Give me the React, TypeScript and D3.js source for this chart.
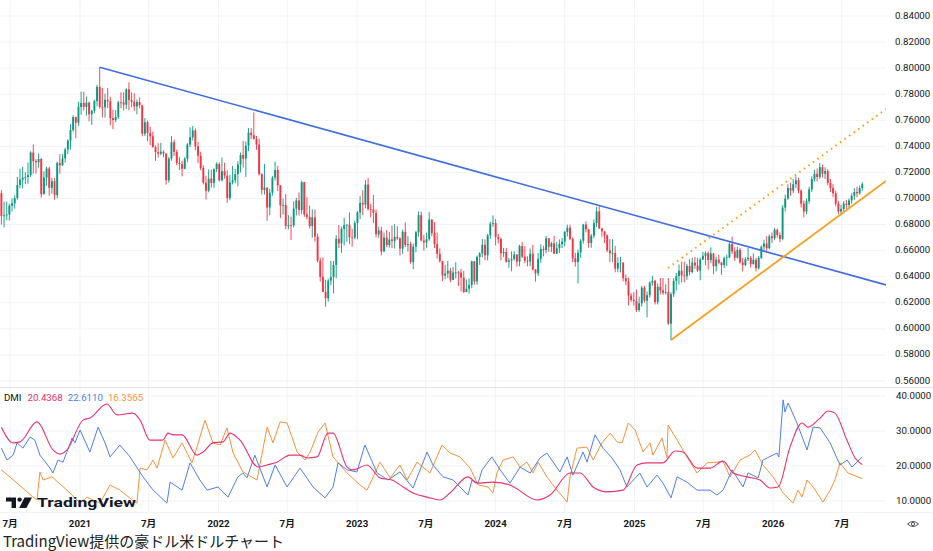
import React from "react";
import * as d3 from "d3";

const W = 933;
const H = 551;

// ---- Data: weekly AUD/USD candles (open = previous close) ----
const firstWeek = "2020-06-08";
const firstOpen = 0.704;

const weekClose = [
  // 2020
  0.6866,0.6871,0.6877,0.6945,0.6963,0.7003,0.7104,0.7144,0.7160,0.7165,
  0.7179,0.7353,0.7287,0.7278,0.7303,0.7033,0.7161,0.7230,0.7082,0.7133,
  0.7026,0.7273,0.7255,0.7308,0.7376,0.7443,0.7526,0.7624,0.7582,0.7702,
  // 2021
  0.7733,0.7703,0.7735,0.7646,0.7673,0.7747,0.7856,0.7702,0.7700,0.7757,
  0.7746,0.7617,0.7602,0.7626,0.7738,0.7737,0.7720,0.7838,0.7755,0.7742,
  0.7706,0.7740,0.7714,0.7497,0.7585,0.7503,0.7477,0.7394,0.7356,0.7344,
  0.7359,0.7344,0.7139,0.7307,0.7431,0.7358,0.7272,0.7265,0.7227,0.7305,
  0.7414,0.7470,0.7522,0.7400,0.7328,0.7234,0.7121,0.7059,0.7153,0.7120,
  0.7225,0.7264,
  // 2022
  0.7140,0.7209,0.7175,0.7003,0.7124,0.7140,0.7187,0.7261,0.7334,0.7306,
  0.7405,0.7505,0.7486,0.7457,0.7414,0.7187,0.7066,0.7084,0.6931,0.7044,
  0.7160,0.7219,0.7101,0.6946,0.6950,0.6790,0.6795,0.6794,0.6922,0.6985,
  0.6912,0.7125,0.6878,0.6859,0.6788,0.6855,0.6707,0.6523,0.6399,0.6284,
  0.6235,0.6370,0.6398,0.6490,0.6690,0.6655,0.6766,0.6795,0.6799,0.6702,
  0.6700,0.6813,
  // 2023
  0.6893,0.6966,0.6954,0.7107,0.6920,0.6915,0.6890,0.6725,0.6755,0.6594,
  0.6700,0.6643,0.6686,0.6675,0.6705,0.6694,0.6615,0.6745,0.6644,0.6650,
  0.6512,0.6631,0.6741,0.6872,0.6678,0.6663,0.6688,0.6838,0.6734,0.6650,
  0.6575,0.6520,0.6409,0.6425,0.6446,0.6376,0.6432,0.6432,0.6431,0.6393,
  0.6282,0.6308,0.6337,0.6518,0.6364,0.6552,0.6579,0.6645,0.6564,0.6718,
  0.6807,0.6812,
  // 2024
  0.6704,0.6688,0.6580,0.6590,0.6514,0.6525,0.6535,0.6571,0.6515,0.6635,
  0.6554,0.6523,0.6517,0.6577,0.6457,0.6426,0.6537,0.6613,0.6604,0.6695,
  0.6629,0.6656,0.6578,0.6619,0.6651,0.6670,0.6744,0.6776,0.6690,0.6541,
  0.6512,0.6586,0.6676,0.6800,0.6764,0.6659,0.6715,0.6811,0.6901,0.6771,
  0.6748,0.6717,0.6602,0.6580,0.6582,0.6462,0.6505,0.6509,0.6389,0.6363,
  0.6255,0.6222,0.6212,
  // 2025
  0.6145,0.6196,0.6316,0.6217,0.6259,0.6355,0.6369,0.6205,0.6323,0.6295,
  0.6277,0.6282,0.6040,0.6266,0.6368,0.6405,0.6446,0.6410,0.6404,0.6482,
  0.6435,0.6508,0.6486,0.6447,0.6532,0.6560,0.6581,0.6528,0.6578,0.6480,
  0.6531,0.6508,0.6489,0.6542,0.6548,0.6650,0.6594,0.6545,0.6606,0.6510,
  0.6490,0.6535,0.6545,0.6495,0.6530,0.6465,0.6545,0.6630,0.6655,0.6620,
  0.6710,0.6695,
  // 2026
  0.6760,0.6720,0.6690,0.6930,0.7000,0.7080,0.7060,0.7110,0.7140,0.7060,
  0.6960,0.6900,0.6980,0.7070,0.7150,0.7190,0.7165,0.7240,0.7190,0.7210,
  0.7120,0.7080,0.7040,0.6960,0.6900,0.6920,0.6960,0.6950,0.6985,0.7020,
  0.7050,0.7040,0.7080,0.7110,
];

const weekHigh = [
  0.7064,0.6976,0.6977,0.6960,0.7000,0.7024,0.7165,0.7228,0.7243,0.7203,
  0.7276,0.7362,0.7414,0.7303,0.7345,0.7313,0.7209,0.7243,0.7243,0.7158,
  0.7158,0.7282,0.7340,0.7342,0.7390,0.7455,0.7569,0.7639,0.7627,0.7742,
  0.7820,0.7819,0.7782,0.7744,0.7680,0.7759,0.7873,0.8007,0.7848,0.7804,
  0.7849,0.7780,0.7680,0.7677,0.7750,0.7815,0.7816,0.7845,0.7891,0.7814,
  0.7807,0.7760,0.7775,0.7720,0.7617,0.7598,0.7549,0.7513,0.7408,0.7425,
  0.7427,0.7370,0.7348,0.7317,0.7478,0.7452,0.7375,0.7317,0.7290,0.7318,
  0.7425,0.7546,0.7556,0.7537,0.7434,0.7358,0.7255,0.7175,0.7223,0.7222,
  0.7232,0.7278,
  0.7277,0.7314,0.7276,0.7216,0.7181,0.7250,0.7226,0.7286,0.7352,0.7441,
  0.7438,0.7540,0.7540,0.7661,0.7480,0.7458,0.7194,0.7266,0.7052,0.7073,
  0.7173,0.7283,0.7250,0.7070,0.7000,0.7034,0.6872,0.6860,0.6977,0.7005,
  0.7047,0.7137,0.7128,0.7009,0.6945,0.6917,0.6916,0.6731,0.6547,0.6548,
  0.6375,0.6385,0.6522,0.6521,0.6720,0.6797,0.6783,0.6851,0.6801,0.6893,
  0.6767,0.6830,
  0.6906,0.7020,0.7063,0.7142,0.7158,0.6958,0.7030,0.6915,0.6783,0.6784,
  0.6738,0.6757,0.6745,0.6793,0.6805,0.6788,0.6703,0.6760,0.6818,0.6711,
  0.6669,0.6654,0.6752,0.6900,0.6898,0.6721,0.6738,0.6895,0.6842,0.6819,
  0.6739,0.6617,0.6522,0.6490,0.6522,0.6468,0.6475,0.6511,0.6445,0.6460,
  0.6445,0.6379,0.6387,0.6523,0.6522,0.6562,0.6588,0.6690,0.6686,0.6728,
  0.6821,0.6871,
  0.6842,0.6728,0.6700,0.6620,0.6621,0.6545,0.6595,0.6595,0.6566,0.6645,
  0.6667,0.6634,0.6556,0.6616,0.6644,0.6456,0.6583,0.6648,0.6636,0.6714,
  0.6688,0.6667,0.6714,0.6667,0.6686,0.6697,0.6752,0.6799,0.6798,0.6702,
  0.6583,0.6608,0.6688,0.6806,0.6824,0.6767,0.6728,0.6839,0.6937,0.6942,
  0.6775,0.6742,0.6725,0.6689,0.6688,0.6635,0.6549,0.6552,0.6509,0.6417,
  0.6393,0.6274,0.6281,
  0.6302,0.6247,0.6329,0.6331,0.6287,0.6364,0.6408,0.6376,0.6348,0.6390,
  0.6391,0.6341,0.6390,0.6282,0.6389,0.6430,0.6494,0.6515,0.6514,0.6498,
  0.6535,0.6545,0.6552,0.6545,0.6547,0.6590,0.6594,0.6595,0.6625,0.6581,
  0.6553,0.6568,0.6513,0.6554,0.6570,0.6670,0.6707,0.6625,0.6630,0.6620,
  0.6545,0.6550,0.6620,0.6560,0.6580,0.6545,0.6560,0.6640,0.6685,0.6710,
  0.6725,0.6740,
  0.6775,0.6770,0.6740,0.6950,0.7030,0.7110,0.7120,0.7150,0.7170,0.7160,
  0.7070,0.6985,0.7000,0.7090,0.7170,0.7220,0.7230,0.7272,0.7260,0.7240,
  0.7225,0.7150,0.7110,0.7060,0.6980,0.6950,0.6980,0.6990,0.7000,0.7040,
  0.7080,0.7090,0.7100,0.7125,
];

const weekLow = [
  0.6800,0.6777,0.6834,0.6832,0.6900,0.6922,0.6990,0.7080,0.7077,0.7110,
  0.7113,0.7164,0.7191,0.7192,0.7236,0.7006,0.7058,0.7097,0.7021,0.7037,
  0.6991,0.7002,0.7190,0.7250,0.7275,0.7341,0.7375,0.7513,0.7463,0.7557,
  0.7643,0.7675,0.7636,0.7592,0.7564,0.7654,0.7707,0.7689,0.7622,0.7621,
  0.7693,0.7562,0.7532,0.7586,0.7610,0.7692,0.7675,0.7687,0.7676,0.7700,
  0.7671,0.7646,0.7693,0.7477,0.7480,0.7440,0.7410,0.7390,0.7289,0.7315,
  0.7331,0.7316,0.7106,0.7121,0.7289,0.7325,0.7255,0.7218,0.7170,0.7224,
  0.7279,0.7395,0.7445,0.7370,0.7271,0.7217,0.7108,0.6993,0.7047,0.7084,
  0.7081,0.7203,
  0.7131,0.7131,0.7152,0.6967,0.6987,0.7108,0.7116,0.7094,0.7199,0.7238,
  0.7165,0.7363,0.7455,0.7450,0.7373,0.7177,0.7030,0.7029,0.6829,0.6872,
  0.7022,0.7138,0.7057,0.6851,0.6877,0.6764,0.6762,0.6681,0.6778,0.6870,
  0.6869,0.6880,0.6859,0.6840,0.6770,0.6700,0.6670,0.6509,0.6363,0.6281,
  0.6170,0.6209,0.6334,0.6272,0.6388,0.6620,0.6584,0.6640,0.6668,0.6650,
  0.6630,0.6688,
  0.6688,0.6842,0.6871,0.6925,0.6908,0.6855,0.6811,0.6701,0.6698,0.6565,
  0.6590,0.6627,0.6623,0.6620,0.6616,0.6682,0.6564,0.6575,0.6627,0.6594,
  0.6500,0.6458,0.6588,0.6707,0.6670,0.6599,0.6622,0.6676,0.6710,0.6620,
  0.6539,0.6508,0.6365,0.6381,0.6391,0.6357,0.6376,0.6386,0.6329,0.6286,
  0.6275,0.6286,0.6270,0.6312,0.6339,0.6338,0.6490,0.6550,0.6526,0.6525,
  0.6690,0.6783,
  0.6640,0.6655,0.6525,0.6551,0.6507,0.6468,0.6442,0.6525,0.6477,0.6480,
  0.6543,0.6503,0.6480,0.6481,0.6447,0.6362,0.6405,0.6506,0.6556,0.6580,
  0.6591,0.6589,0.6573,0.6575,0.6582,0.6620,0.6634,0.6710,0.6680,0.6511,
  0.6478,0.6348,0.6545,0.6655,0.6740,0.6622,0.6622,0.6695,0.6781,0.6765,
  0.6707,0.6658,0.6588,0.6512,0.6512,0.6434,0.6434,0.6433,0.6364,0.6335,
  0.6179,0.6207,0.6178,
  0.6129,0.6131,0.6171,0.6202,0.6088,0.6239,0.6329,0.6187,0.6187,0.6264,
  0.6260,0.6264,0.6030,0.5914,0.6245,0.6295,0.6340,0.6357,0.6357,0.6376,
  0.6410,0.6426,0.6460,0.6437,0.6372,0.6528,0.6487,0.6455,0.6505,0.6419,
  0.6440,0.6495,0.6415,0.6467,0.6481,0.6543,0.6575,0.6521,0.6540,0.6500,
  0.6440,0.6480,0.6520,0.6470,0.6500,0.6440,0.6455,0.6535,0.6600,0.6600,
  0.6610,0.6660,
  0.6680,0.6700,0.6665,0.6680,0.6900,0.6990,0.7020,0.7040,0.7080,0.7040,
  0.6930,0.6855,0.6880,0.6960,0.7050,0.7130,0.7130,0.7150,0.7160,0.7150,
  0.7100,0.7050,0.7010,0.6940,0.6880,0.6870,0.6900,0.6920,0.6930,0.6960,
  0.6990,0.7010,0.7030,0.7060,
];

// ---- Drawn trend lines: [week index, price] endpoints ----
const blueLineWeeks = [37, 332.9];
const blueLinePrices = [0.8007, 0.6337];
const orangeLineWeeks = [252, 332.9];
const orangeLinePrices = [0.5914, 0.7135];
const orangeDotWeeks = [250.9, 332.9];
const orangeDotPrices = [0.6467, 0.7686];

// ---- DMI indicator (week index, value) ----
const adxWeeks = [0,4.4,7,13.4,19.4,22,24.7,30.7,33.3,39.7,43.5,49.5,52.2,55.9,60.8,62.7,64.6,68,73.6,75.9,79.6,83.4,86,89.8,96.6,100,103.7,108.6,112.4,115,118.8,122.9,124.8,130.1,132.3,137.6,142.5,147,150,154.9,160.2,165.1,168.8,175.6,179,185,191.4,201.6,206.5,214,217.8,222.7,227.9,234,239.2,243,249,253.5,256.5,261.8,266.7,271.6,275.4,280.6,285.5,289.3,292.3,296.8,301.3,303.6,308.1,311.1,313.7,318.2,321.3,324];
const adxValues = [31.1,26.6,26.9,32.6,24.6,23.4,24.6,33.1,33.7,37.7,34.6,35.1,33.1,27.4,27.4,29.4,28.9,28.9,23.1,24,26.6,26.9,29.4,27.4,19.7,20.3,21.1,23.1,23.1,22.3,22.6,29.4,29.4,19.7,18.9,20.3,16.6,16,14.6,12.3,11.1,10.3,12.3,16.9,15.1,15.4,14.6,10.3,11.7,18,18,14,12.6,13.1,20.3,20.9,20.9,24.3,24,19.4,19.4,21.4,18,16.9,16,13.7,14,25.4,32.3,31.1,33.7,35.7,35.1,27.4,22.3,20.4];

const plusDiWeeks = [0,2.1,4.4,5.9,8.1,10.8,12.6,14.5,18.3,19.4,21.3,23.2,26.6,27.7,29.6,33.3,36.4,39,40.9,44.6,48.4,53.3,57.1,62.3,63.5,68,71,74.7,77.4,81.5,85.3,89,90.9,92.4,95.4,100,103,107.5,112.4,117.3,121.8,124.8,126.7,130.1,133.8,136.8,141.4,145.5,150,154.9,160.2,162.4,166.2,170,175.6,177.1,179.4,180.9,184.6,187.7,191.4,195.2,199,202.7,205.3,210.2,212.9,215.1,218.9,220.4,223.4,226.4,229.8,232.8,235.4,240.3,243,246.7,249,252,254.3,258,261.8,266.7,269.3,271.6,275,279.1,281,284.8,286.6,291.9,292.6,294.2,294.9,296.1,299.4,303.2,305.5,308.1,311.9,315.6,318.3,320.1,324];
const plusDiValues = [25.1,21.7,23.1,26.6,25.1,28.3,27.4,23.1,19.4,18,21.7,21.1,28,26.6,30.3,24,31.1,26.6,22.6,26,22.6,16.9,13.1,9.4,15.4,13.1,20.9,16,13.1,14,11.1,16.9,18,16.6,23.1,14,20.3,14,19.4,14,10.9,14,20.9,18.9,18.3,26,18,16,18.3,13.7,24,20.3,16.9,16,11.7,16,15.1,18.9,22.6,18.9,15.1,19.7,18,22.3,23.7,18.3,22.6,17.4,24,21.1,28.9,25.1,22.3,18.9,14,18,14,17.4,15.1,10.9,16.9,15.4,13.1,13.1,11.7,13.1,18.9,14,18,16.6,21.7,23.7,22.6,38.9,35.4,38,32.3,24.6,31.1,30.9,26.6,20.3,21.7,19.7,22.6];

const minusDiWeeks = [0,5.9,11.9,13.4,14.5,15.7,19,24.7,29.6,32.2,37.1,40.9,44.6,49.2,51,52.2,54.8,57.1,58.6,61.6,64.6,68,71.7,73.6,76.6,79.6,82.3,84.9,87.2,90.9,96.2,100,102.2,104.9,107.5,111.3,114.3,116.2,119.2,121.8,124.8,130.1,134.9,137.6,142.5,146.3,150,152.7,156.4,161.3,163.9,165.8,168.8,172.6,176.4,179.4,183.1,185,186.5,188.8,192.6,195.2,197.8,200.1,202,205.3,209.1,212.9,214,216.6,220.4,222.7,226,229.1,231.7,233.6,235.9,238.5,241.5,244.1,245.2,248.6,250.5,250.9,254.3,258,261.8,265.6,269.3,271.6,274.2,278,281.7,283.6,286.6,290.4,294.2,297.9,299.8,301.3,303.2,305.5,309.2,311.9,313.7,315.6,318.6,324];
const minusDiValues = [18.9,15.1,11.1,10.3,18.3,16,16.9,13.1,9.4,11.1,9.4,14.6,13.1,10.3,9.4,19.4,18.9,21.7,19.4,27.4,22.3,26.6,20.9,25.4,33.1,26.6,26,30.9,23.7,18.3,16,31.1,26.6,32.6,32.3,24,21.7,24,29.7,32.3,22.6,18,14.6,13.1,21.1,16.6,20.3,16,21.1,18,22.6,26,23.7,22.6,19.4,14.6,14,12.3,18,21.7,22.6,19.7,21.1,18,21.1,16.9,13.1,9.7,16.9,25.1,25.4,21.7,26.6,29.4,26.9,26.6,32.3,30.3,24,26.6,23.1,28,22.3,31.7,27.4,22.6,18,20.9,21.1,21.4,16.9,21.7,23.1,24.6,20.3,16.9,12.3,9.4,13.1,11.1,16,14,9.7,13.1,16,20.9,18,16.4];

const dmiLegend = ["20.4368", "22.6110", "16.3565"];

// ---- Axis ticks ----
const priceTicks = [0.56,0.58,0.60,0.62,0.64,0.66,0.68,0.70,0.72,0.74,0.76,0.78,0.80,0.82,0.84];
const dmiTicks = [10, 20, 30, 40];
const timeTickDates = ["2020-07-01","2021-01-01","2021-07-01","2022-01-01","2022-07-01","2023-01-01","2023-07-01","2024-01-01","2024-07-01","2025-01-01","2025-07-01","2026-01-01","2026-07-01"];
const timeTickLabels = ["7月","2021","7月","2022","7月","2023","7月","2024","7月","2025","7月","2026","7月"];

const caption = "TradingView提供の豪ドル米ドルチャート";

// ---- Colors ----
const UP = "#089981";
const DOWN = "#f23645";
const ADX_C = "#e8336f";
const PDI_C = "#4f7de8";
const MDI_C = "#f7913d";
const GRID = "#f0f3fa";
const TEXT = "#131722";

const FONT = "Roboto, 'Noto Sans CJK JP', sans-serif";

export default function App() {
  const plotRight = 886;
  const t0 = d3.utcParse("%Y-%m-%d")(firstWeek)!.getTime();
  const WEEK = 7 * 864e5;
  const lastIdx = weekClose.length - 1;

  const x = d3.scaleLinear().domain([0, lastIdx]).range([1.4, 862.3]);
  const dateToWeek = (s: string) => (d3.utcParse("%Y-%m-%d")(s)!.getTime() - t0) / WEEK;

  const yP = d3.scaleLinear().domain([0.56, 0.84]).range([381, 16]);
  const yD = d3.scaleLinear().domain([10, 40]).range([501, 396]);

  const bodyW = 1.9;

  const candles = weekClose.map((c, i) => {
    const o = i === 0 ? firstOpen : weekClose[i - 1];
    const h = Math.max(weekHigh[i], o, c);
    const l = Math.min(weekLow[i], o, c);
    const up = c >= o;
    const cx = x(i);
    const top = yP(Math.max(o, c));
    const bot = yP(Math.min(o, c));
    return (
      <g key={i}>
        <line x1={cx} x2={cx} y1={yP(h)} y2={yP(l)} stroke={up ? UP : DOWN} strokeWidth={0.9} />
        <rect x={cx - bodyW / 2} y={top} width={bodyW} height={Math.max(0.8, bot - top)} fill={up ? UP : DOWN} />
      </g>
    );
  });

  const dmiLine = (weeks: number[], vals: number[], curve: any) =>
    d3.line<number>()
      .x((_, i) => x(weeks[i]))
      .y((v) => yD(v))
      .curve(curve)(vals) || "";

  const seg = (weeks: number[], prices: number[]) => ({
    x1: x(weeks[0]), y1: yP(prices[0]), x2: x(weeks[1]), y2: yP(prices[1]),
  });
  const blue = seg(blueLineWeeks, blueLinePrices);
  const orng = seg(orangeLineWeeks, orangeLinePrices);
  const dots = seg(orangeDotWeeks, orangeDotPrices);

  const timeXs = timeTickDates.map((d) => x(dateToWeek(d)));

  return (
    <div style={{ position: "absolute", left: 0, top: 0 }}>
      <svg width={W} height={H} style={{ display: "block", background: "#fff" }} fontFamily={FONT}>
        <defs>
          <clipPath id="pricePane"><rect x={0} y={0} width={plotRight} height={387} /></clipPath>
          <clipPath id="dmiPane"><rect x={0} y={388} width={plotRight} height={124} /></clipPath>
        </defs>
        <rect x={0} y={0} width={W} height={H} fill="#fff" />

        {/* grid */}
        {priceTicks.map((p) => (
          <line key={"pg" + p} x1={0} x2={plotRight} y1={yP(p)} y2={yP(p)} stroke={GRID} />
        ))}
        {dmiTicks.map((v) => (
          <line key={"dg" + v} x1={0} x2={plotRight} y1={yD(v)} y2={yD(v)} stroke={GRID} />
        ))}
        {timeXs.map((tx, i) => (
          <line key={"vg" + i} x1={tx} x2={tx} y1={0} y2={512} stroke={GRID} />
        ))}

        {/* pane separators */}
        <line x1={0} x2={W} y1={387.5} y2={387.5} stroke="#e0e3eb" />
        <line x1={0} x2={W} y1={512.5} y2={512.5} stroke="#f0f3fa" />

        {/* candles */}
        <g clipPath="url(#pricePane)">
          {candles}
          <line {...blue} stroke="#3f6ce0" strokeWidth={1.6} />
          <line {...orng} stroke="#f5a11e" strokeWidth={1.8} />
          <line {...dots} stroke="#f5a11e" strokeWidth={2} strokeDasharray="1.6 4" />
        </g>

        {/* DMI lines */}
        <g clipPath="url(#dmiPane)" fill="none" strokeWidth={1}>
          <path d={dmiLine(minusDiWeeks, minusDiValues, d3.curveLinear)} stroke={MDI_C} />
          <path d={dmiLine(plusDiWeeks, plusDiValues, d3.curveLinear)} stroke={PDI_C} />
          <path d={dmiLine(adxWeeks, adxValues, d3.curveMonotoneX)} stroke={ADX_C} strokeWidth={1.1} />
        </g>

        {/* DMI legend */}
        <text x={4} y={398} fontSize={9.7} dominantBaseline="middle" fill={TEXT}>
          <tspan>DMI</tspan>
          <tspan dx={6} fill={ADX_C}>{dmiLegend[0]}</tspan>
          <tspan dx={5} fill={PDI_C}>{dmiLegend[1]}</tspan>
          <tspan dx={5} fill={MDI_C}>{dmiLegend[2]}</tspan>
        </text>

        {/* right price axis */}
        {priceTicks.map((p) => (
          <text key={"pt" + p} x={895} y={yP(p)} fontSize={9.7} fill={TEXT} dominantBaseline="middle">
            {p.toFixed(5)}
          </text>
        ))}
        {dmiTicks.map((v) => (
          <text key={"dt" + v} x={896} y={yD(v)} fontSize={9.7} fill={TEXT} dominantBaseline="middle">
            {v.toFixed(4)}
          </text>
        ))}

        {/* time axis */}
        {timeXs.map((tx, i) => (
          <text key={"tt" + i} x={tx} y={524} fontSize={9.7} fill={TEXT} textAnchor="middle"
            dominantBaseline="middle" fontWeight={/^\d/.test(timeTickLabels[i]) ? 700 : 400}>
            {timeTickLabels[i]}
          </text>
        ))}

        {/* eye icon bottom right */}
        <g transform="translate(913,524)" fill="none" stroke="#50535e" strokeWidth={1}>
          <path d="M-5.5 0 Q0 -5 5.5 0 Q0 5 -5.5 0 Z" />
          <circle r={1.6} />
        </g>

        {/* TradingView watermark */}
        <g fill={TEXT}>
          <path d="M6 497.5 H16 V508 H11.6 V501.6 H6 Z" />
          <circle cx={19.6} cy={499.6} r={2.2} />
          <path d="M24.5 497.5 H32 L26.4 508 H19.2 Z" />
          <text x={37} y={507} fontSize={13} fontWeight={700} textLength={99} lengthAdjust="spacingAndGlyphs"
            fontFamily="Roboto, sans-serif">TradingView</text>
        </g>

        {/* caption */}
        <text x={3} y={547} fontSize={15} fill="#222" fontFamily="'Noto Sans CJK JP', sans-serif">{caption}</text>
      </svg>
    </div>
  );
}
